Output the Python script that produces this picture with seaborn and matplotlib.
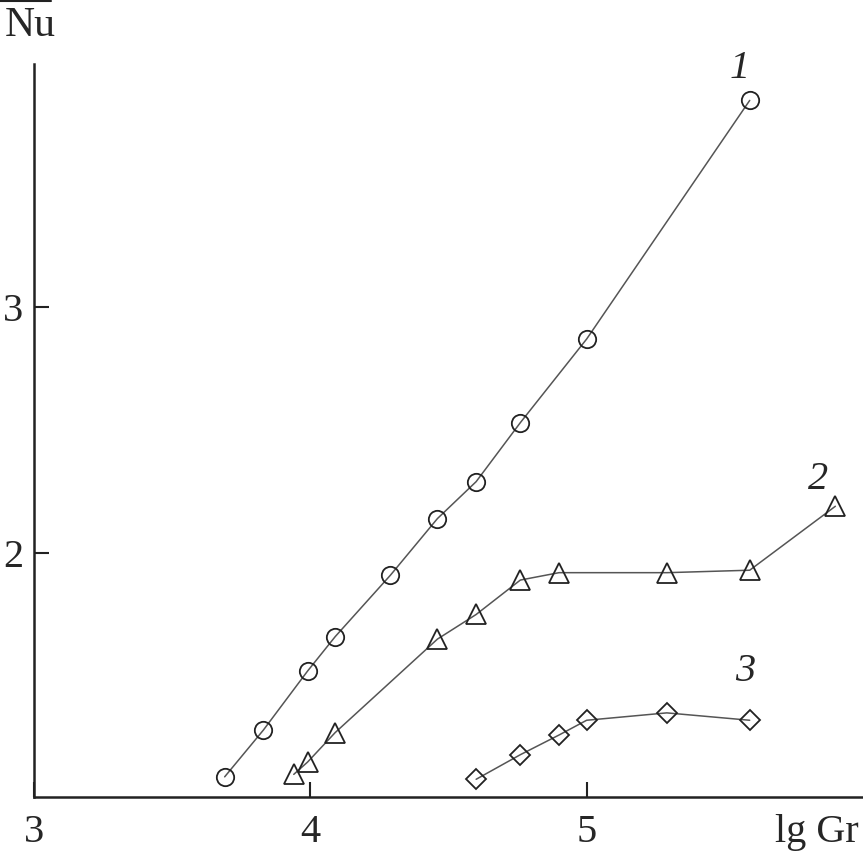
import numpy as np
import pandas as pd
import matplotlib
matplotlib.use("Agg")
import matplotlib.pyplot as plt
from matplotlib.lines import Line2D
import seaborn as sns

# lg Gr / mean Nu values
lg_gr_1 = [3.69, 3.83, 3.99, 4.09, 4.29, 4.46, 4.60, 4.76, 5.00, 5.59]
nu_1 = [1.09, 1.28, 1.52, 1.66, 1.91, 2.14, 2.29, 2.53, 2.87, 3.84]

lg_gr_2 = [3.94, 3.99, 4.09, 4.46, 4.60, 4.76, 4.90, 5.29, 5.59, 5.90]
nu_2 = [1.10, 1.15, 1.27, 1.65, 1.75, 1.89, 1.92, 1.92, 1.93, 2.19]

lg_gr_3 = [4.60, 4.76, 4.90, 5.00, 5.29, 5.59]
nu_3 = [1.08, 1.18, 1.26, 1.32, 1.35, 1.32]

x_ticks = [3, 4, 5]
y_ticks = [2, 3]
curve_labels = ["1", "2", "3"]

sns.set_style("white")
plt.rcParams["font.family"] = ["Liberation Serif", "DejaVu Serif"]

W = 863
fig = plt.figure(figsize=(8.63, 8.63), dpi=100)
ax = fig.add_axes([34 / W, (W - 797) / W, 829 / W, (797 - 64) / W])

series = [
    (lg_gr_1, nu_1, "o", 12.5),
    (lg_gr_2, nu_2, "^", 14),
    (lg_gr_3, nu_3, "D", 10.5),
]
for xs, ys, mk, ms in series:
    df = pd.DataFrame({"x": xs, "y": ys})
    sns.lineplot(data=df, x="x", y="y", ax=ax, color="#555555", lw=1.1,
                 marker=mk, markersize=ms, markerfacecolor="none",
                 markeredgecolor="#222222", markeredgewidth=1.3,
                 sort=False, estimator=None)

# curve numbers
label_pos = [(5.554, 3.97), (5.837, 2.30), (5.572, 1.52)]
for lab, (lx, ly) in zip(curve_labels, label_pos):
    ax.text(lx, ly, lab, fontsize=29, fontstyle="italic", ha="center", va="center")

ax.set_xlim(3.0, 6.0)
ax.set_ylim(1.008, 3.988)
ax.set_xticks(x_ticks)
ax.set_yticks(y_ticks)
ax.set_xticklabels([str(t) for t in x_ticks])
ax.set_yticklabels([str(t) for t in y_ticks])
ax.set_xlabel("")
ax.set_ylabel("")
ax.tick_params(bottom=True, left=True, direction="in", length=11, width=1.5,
               color="#222222", labelsize=29, pad=12)
ax.tick_params(axis="y", pad=8)

for side in ["top", "right"]:
    ax.spines[side].set_visible(False)
for side in ["left", "bottom"]:
    ax.spines[side].set_linewidth(1.8)
    ax.spines[side].set_color("#222222")

# axis names
fig.text(817 / W, 1 - 832 / W, "lg Gr", fontsize=29, ha="center", va="center")
fig.text(30 / W, 1 - 26 / W, "Nu", fontsize=30, ha="center", va="center")
fig.add_artist(Line2D([0, 51 / W], [1 - 1.5 / W, 1 - 1.5 / W], color="#222222", lw=1.5))

fig.savefig("out.png", dpi=100)
